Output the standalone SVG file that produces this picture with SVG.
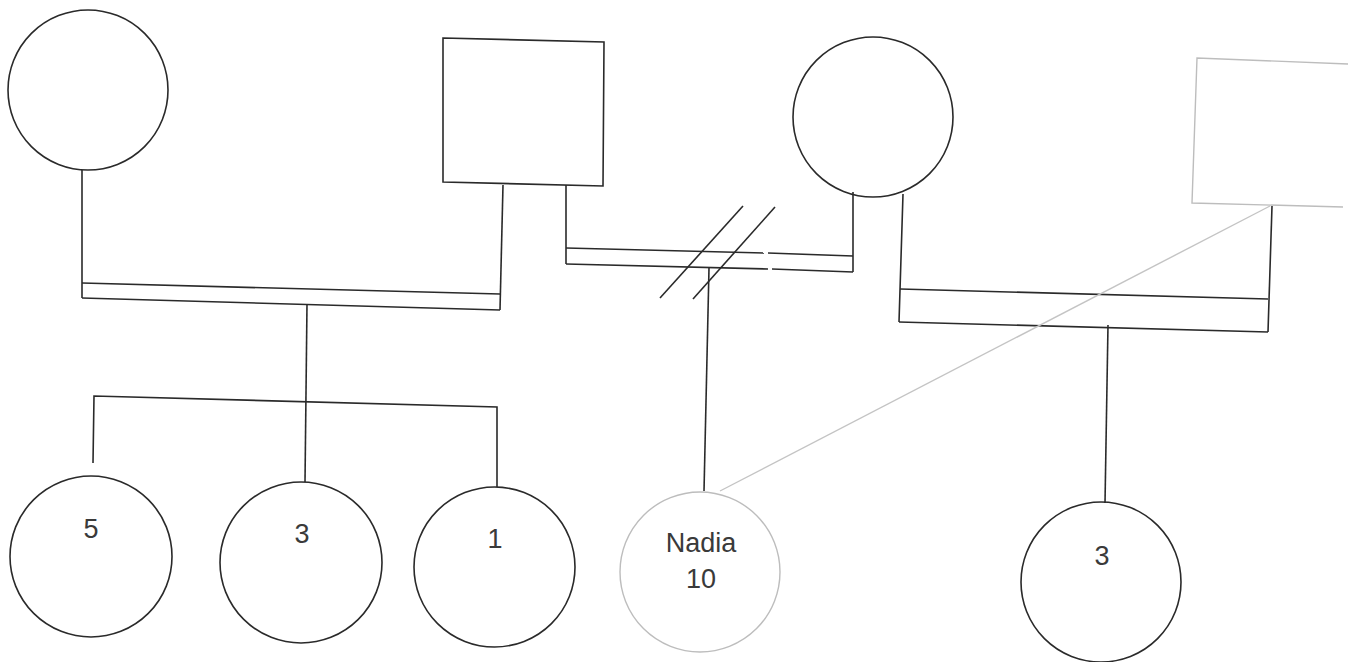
<svg xmlns="http://www.w3.org/2000/svg" width="1361" height="662" viewBox="0 0 1361 662">
<style>
.n{fill:none;stroke:#2a2a2a;stroke-width:1.6}
.l{fill:none;stroke:#bdbdbd;stroke-width:1.4}
.c{fill:none;stroke:#2a2a2a;stroke-width:1.6}
.cl{fill:none;stroke:#c4c4c4;stroke-width:1.4}
.t{font-family:"Liberation Sans",Arial,sans-serif;font-size:27px;fill:#3a3a3a;text-anchor:middle}
</style>
<rect width="1361" height="662" fill="#fff"/>
<g id="connectors">
<polyline class="c" points="82,170 82,298"/>
<polyline class="c" points="503,185 500,310"/>
<line class="c" x1="82" y1="283" x2="500" y2="294"/>
<line class="c" x1="82" y1="298" x2="500" y2="310"/>
<line class="c" x1="307" y1="304" x2="305" y2="482"/>
<polyline class="c" points="93,463 94,396 497,407 497,487"/>
<polyline class="c" points="566,185 566,264"/>
<polyline class="c" points="853,192 853,272"/>
<line class="c" x1="566" y1="248" x2="764" y2="253"/>
<line class="c" x1="768" y1="253" x2="853" y2="256"/>
<line class="c" x1="566" y1="264" x2="768" y2="269"/>
<line class="c" x1="772" y1="269" x2="853" y2="272"/>
<line class="c" x1="709" y1="268" x2="704" y2="491"/>
<line class="c" x1="743" y1="206" x2="660" y2="298"/>
<line class="c" x1="775" y1="207" x2="693" y2="299"/>
<polyline class="c" points="903,194 899,322"/>
<polyline class="c" points="1272,206 1268,332"/>
<line class="c" x1="900" y1="289" x2="1268" y2="299"/>
<line class="c" x1="899" y1="322" x2="1268" y2="332"/>
<line class="c" x1="1108" y1="325" x2="1105" y2="503"/>
<line class="cl" x1="1270" y1="206" x2="720" y2="491"/>
</g>
<g id="grandmother-left"><circle class="n" cx="88" cy="90" r="80"/></g>
<g id="grandfather"><polygon class="n" points="443,38 604,42 603,186 443,182"/></g>
<g id="mother"><circle class="n" cx="873" cy="117" r="80"/></g>
<g id="stepfather"><polyline class="l" points="1348,64 1197,58 1192,203 1343,207"/></g>
<g id="child-5"><ellipse class="n" cx="91" cy="556.5" rx="81" ry="80.5"/><text class="t" x="91" y="538">5</text></g>
<g id="child-3"><ellipse class="n" cx="301" cy="562.5" rx="81" ry="80.5"/><text class="t" x="302" y="543">3</text></g>
<g id="child-1"><ellipse class="n" cx="494.5" cy="567" rx="80.5" ry="80"/><text class="t" x="495" y="548">1</text></g>
<g id="nadia"><circle class="l" cx="700" cy="572" r="80"/><text class="t" x="701" y="552">Nadia</text><text class="t" x="701" y="588">10</text></g>
<g id="child-3-right"><circle class="n" cx="1101" cy="582" r="80"/><text class="t" x="1102" y="565">3</text></g>
</svg>
